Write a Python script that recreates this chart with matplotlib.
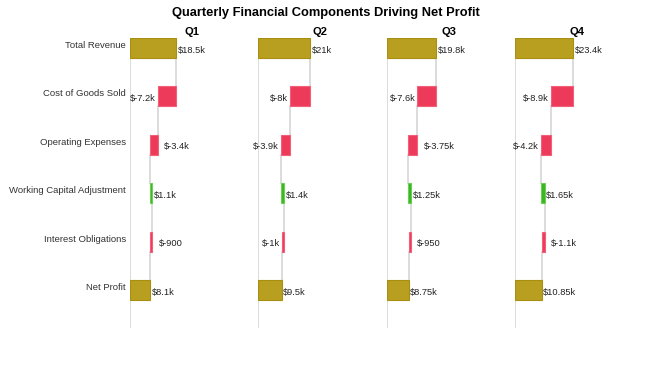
import matplotlib
matplotlib.use("Agg")
from matplotlib import pyplot as plt
from matplotlib import transforms

plt.rcParams['font.family'] = ['Liberation Sans', 'DejaVu Sans']

title = "Quarterly Financial Components Driving Net Profit"
quarters = ["Q1", "Q2", "Q3", "Q4"]
categories = ["Total Revenue", "Cost of Goods Sold", "Operating Expenses",
              "Working Capital Adjustment", "Interest Obligations", "Net Profit"]
measures = ["absolute", "relative", "relative", "relative", "relative", "total"]
q1_values = [18500, -7200, -3400, 1100, -900]
q2_values = [21000, -8000, -3900, 1400, -1000]
q3_values = [19800, -7600, -3750, 1250, -950]
q4_values = [23400, -8900, -4200, 1650, -1100]
q1_labels = ["$18.5k", "$-7.2k", "$-3.4k", "$1.1k", "$-900", "$8.1k"]
q2_labels = ["$21k", "$-8k", "$-3.9k", "$1.4k", "$-1k", "$9.5k"]
q3_labels = ["$19.8k", "$-7.6k", "$-3.75k", "$1.25k", "$-950", "$8.75k"]
q4_labels = ["$23.4k", "$-8.9k", "$-4.2k", "$1.65k", "$-1.1k", "$10.85k"]

# which side the decreasing labels sit on (plotly put some of them to the right)
label_side = [
    ["r", "l", "r", "r", "r", "r"],
    ["r", "l", "l", "r", "l", "r"],
    ["r", "l", "r", "r", "r", "r"],
    ["r", "l", "l", "r", "r", "r"],
]

GOLD, GOLD_EDGE = "#b89f1f", "#a88f12"
RED, RED_EDGE = "#ee3a5a", "#f0607a"
GREEN, GREEN_EDGE = "#3cb521", "#6acf55"
LINE = "#d6d6d6"
TXT = "#222222"

fig = plt.figure(figsize=(6.5, 3.67), dpi=100)
W, H = 650, 367
lefts = [130, 258, 387, 515]
top, bottom = 38, 328
panel_w = 124.5

fig.text(326 / W, 1 - 13 / H, title, ha="center", va="center",
         fontsize=9.3, fontweight="bold", color="black")

all_values = [q1_values, q2_values, q3_values, q4_values]
all_labels = [q1_labels, q2_labels, q3_labels, q4_labels]

for qi, q in enumerate(quarters):
    ax = fig.add_axes([lefts[qi] / W, 1 - bottom / H, panel_w / W, (bottom - top) / H])
    vals = all_values[qi]
    labels = all_labels[qi]

    # running totals for waterfall
    starts, ends = [], []
    total = 0
    for v in vals:
        starts.append(total)
        total += v
        ends.append(total)
    starts.append(0)
    ends.append(total)

    bar_h = 0.41
    for i, cat in enumerate(categories):
        lo, hi = min(starts[i], ends[i]), max(starts[i], ends[i])
        if measures[i] in ("absolute", "total"):
            c, e = GOLD, GOLD_EDGE
        elif ends[i] > starts[i]:
            c, e = GREEN, GREEN_EDGE
        else:
            c, e = RED, RED_EDGE
        ax.barh(i, hi - lo, left=lo, height=bar_h, color=c, edgecolor=e,
                linewidth=0.8, zorder=3)

        side = label_side[qi][i]
        if side == "l":
            ax.annotate(labels[i], (lo, i), xytext=(-1.5, -1.5), textcoords="offset points",
                        ha="right", va="center", fontsize=6.7, color=TXT, zorder=4)
        else:
            off = 1.0 if measures[i] != "relative" or ends[i] > starts[i] else 4.5
            ax.annotate(labels[i], (hi, i), xytext=(off, -1.5), textcoords="offset points",
                        ha="left", va="center", fontsize=6.7, color=TXT, zorder=4)

        # connector to the next bar
        if i < len(categories) - 1:
            ax.plot([ends[i], ends[i]], [i + bar_h / 2, i + 1 - bar_h / 2],
                    color=LINE, linewidth=1.2, zorder=2)

    ax.axvline(0, color=LINE, linewidth=1.2, zorder=1)
    ax.set_xlim(0, 50000)
    ax.set_ylim(5 + (bottom - 290) / 48.4, -(48 - top) / 48.4)
    for s in ax.spines.values():
        s.set_visible(False)
    ax.set_xticks([])
    ax.set_yticks(range(len(categories)))
    if qi == 0:
        ax.set_yticklabels(categories, fontsize=6.8, color="#333333")
        ax.tick_params(axis="y", length=0, pad=3)
        # category names sit a little above the bar centres
        shift = transforms.ScaledTranslation(0, 2.5 / 72, fig.dpi_scale_trans)
        for lab in ax.get_yticklabels():
            lab.set_transform(lab.get_transform() + shift)
    else:
        ax.set_yticklabels([])
        ax.tick_params(axis="y", length=0)
    ax.set_title(q, fontsize=8, fontweight="bold", pad=2.5)

fig.savefig("out.png", dpi=100)
